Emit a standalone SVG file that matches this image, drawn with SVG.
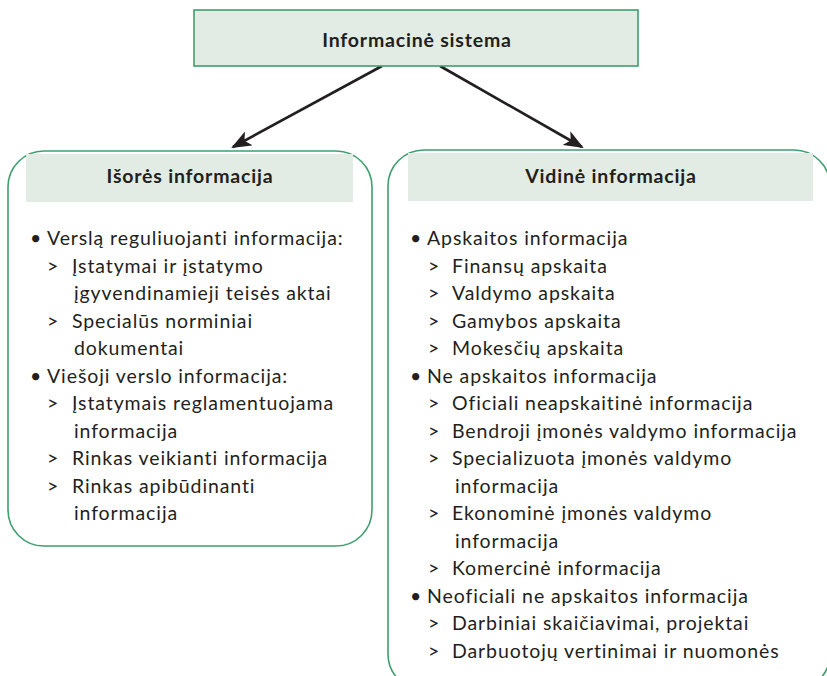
<svg xmlns="http://www.w3.org/2000/svg" width="827" height="676" viewBox="0 0 827 676">
  <style>
    .frame { fill: #ffffff; stroke: #3f9e6e; stroke-width: 1.6; }
    .band { fill: #e2ece4; }
    .title { font-family: Lato, "Open Sans", sans-serif; font-weight: bold; font-size: 19.5px; letter-spacing: 0.8px; fill: #231f20; text-anchor: middle; }
    .item { font-family: Lato, "Open Sans", sans-serif; font-size: 19.5px; letter-spacing: 0.9px; fill: #231f20; }
    .link { stroke: #231f20; stroke-width: 2.6; fill: none; marker-end: url(#head); }
  </style>
  <defs>
    <marker id="head" viewBox="0 0 20 16" refX="18" refY="8" markerWidth="20" markerHeight="16" markerUnits="userSpaceOnUse" orient="auto">
      <path d="M0,0 L20,8 L0,16 L5,8 Z" fill="#231f20"/>
    </marker>
  </defs>

  <!-- connectors -->
  <g id="connectors">
    <line class="link" x1="382" y1="66" x2="233" y2="147"/>
    <line class="link" x1="440" y1="66" x2="582" y2="147"/>
  </g>

  <!-- root -->
  <g id="root">
    <rect x="194" y="10" width="444" height="56" fill="#e2ece4" stroke="#3f9e6e" stroke-width="1.6"/>
    <text class="title" x="417" y="47">Informacinė sistema</text>
  </g>

  <!-- external information -->
  <g id="external">
    <rect class="frame" x="8" y="151" width="364" height="395" rx="36" ry="36"/>
    <rect class="band" x="26" y="154" width="327" height="48"/>
    <text class="title" x="190" y="183">Išorės informacija</text>
    <g class="item">
      <text x="30" y="245">•</text><text x="47" y="245">Verslą reguliuojanti informacija:</text>
      <text x="47" y="272.5">&gt;</text><text x="72" y="272.5">Įstatymai ir įstatymo</text>
      <text x="74" y="300">įgyvendinamieji teisės aktai</text>
      <text x="47" y="327.5">&gt;</text><text x="72" y="327.5">Specialūs norminiai</text>
      <text x="74" y="355">dokumentai</text>
      <text x="30" y="382.5">•</text><text x="47" y="382.5">Viešoji verslo informacija:</text>
      <text x="47" y="410">&gt;</text><text x="72" y="410">Įstatymais reglamentuojama</text>
      <text x="74" y="437.5">informacija</text>
      <text x="47" y="465">&gt;</text><text x="72" y="465">Rinkas veikianti informacija</text>
      <text x="47" y="492.5">&gt;</text><text x="72" y="492.5">Rinkas apibūdinanti</text>
      <text x="74" y="520">informacija</text>
    </g>
  </g>

  <!-- internal information -->
  <g id="internal">
    <rect class="frame" x="388" y="150" width="442" height="540" rx="36" ry="36"/>
    <rect class="band" x="408" y="153" width="405" height="48"/>
    <text class="title" x="611" y="183">Vidinė informacija</text>
    <g class="item">
      <text x="410" y="245">•</text><text x="427" y="245">Apskaitos informacija</text>
      <text x="428" y="272.5">&gt;</text><text x="452" y="272.5">Finansų apskaita</text>
      <text x="428" y="300">&gt;</text><text x="452" y="300">Valdymo apskaita</text>
      <text x="428" y="327.5">&gt;</text><text x="452" y="327.5">Gamybos apskaita</text>
      <text x="428" y="355">&gt;</text><text x="452" y="355">Mokesčių apskaita</text>
      <text x="410" y="382.5">•</text><text x="427" y="382.5">Ne apskaitos informacija</text>
      <text x="428" y="410">&gt;</text><text x="452" y="410">Oficiali neapskaitinė informacija</text>
      <text x="428" y="437.5">&gt;</text><text x="452" y="437.5">Bendroji įmonės valdymo informacija</text>
      <text x="428" y="465">&gt;</text><text x="452" y="465">Specializuota įmonės valdymo</text>
      <text x="455" y="492.5">informacija</text>
      <text x="428" y="520">&gt;</text><text x="452" y="520">Ekonominė įmonės valdymo</text>
      <text x="455" y="547.5">informacija</text>
      <text x="428" y="575">&gt;</text><text x="452" y="575">Komercinė informacija</text>
      <text x="410" y="602.5">•</text><text x="427" y="602.5">Neoficiali ne apskaitos informacija</text>
      <text x="428" y="630">&gt;</text><text x="452" y="630">Darbiniai skaičiavimai, projektai</text>
      <text x="428" y="657.5">&gt;</text><text x="452" y="657.5">Darbuotojų vertinimai ir nuomonės</text>
    </g>
  </g>
</svg>
